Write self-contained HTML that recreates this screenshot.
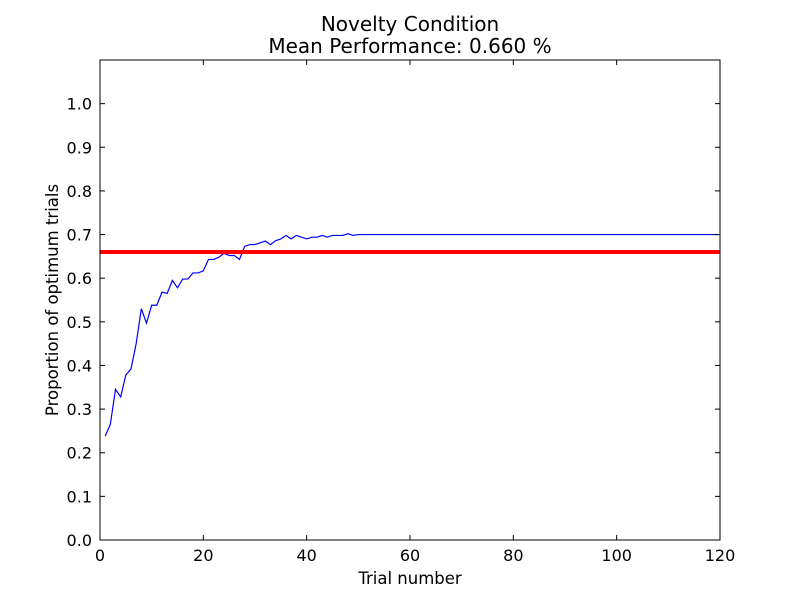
<!DOCTYPE html>
<html><head><meta charset="utf-8"><style>
body{margin:0;background:#fff;}
svg{display:block;font-family:"DejaVu Sans",sans-serif;}
</style></head><body>
<svg width="800" height="600">
<g id="g"></g>
</svg>
<script>
const trials = Array.from({length:120},(_,i)=>i+1);
const perfHead = [.238,.265,.345,.328,.378,.392,.45,.53,.497,.538,.538,.568,.565,.595,.578,.598,.598,.612,.612,.617,.643,.643,.648,.657,.652,.652,.643,.673,.677,.677,.681,.685,.677,.686,.69,.698,.69,.698,.694,.69,.694,.694,.698,.694,.698,.698,.698,.702,.698];
const perf = trials.map((t,i)=> i<perfHead.length ? perfHead[i] : 0.70);
const meanPerf = 0.66;
const xTicks = [0,20,40,60,80,100,120];
const yTicks = [0,0.1,0.2,0.3,0.4,0.5,0.6,0.7,0.8,0.9,1.0];
const L=100,R=720,T=60,B=540,XMAX=120,YMAX=1.1;
const X=v=>L+(v/XMAX)*(R-L), Y=v=>B-(v/YMAX)*(B-T);
const NS="http://www.w3.org/2000/svg", g=document.getElementById('g');
function mk(tag,attrs,txt){const e=document.createElementNS(NS,tag);for(const k in attrs)e.setAttribute(k,attrs[k]);if(txt!==undefined)e.textContent=txt;g.appendChild(e);return e;}
const line=mk('polyline',{points:trials.map((t,i)=>X(t)+','+Y(perf[i])).join(' '),fill:'none',stroke:'#0000ff','stroke-width':1.2});


const mean=mk('line',{x1:L,x2:R,y1:Y(meanPerf),y2:Y(meanPerf),stroke:'#ff0000','stroke-width':4});


const frame=mk('rect',{x:L,y:T,width:R-L,height:B-T,fill:'none',stroke:'#000','stroke-width':1});


xTicks.forEach(v=>{const x=X(v);
 mk('line',{x1:x,x2:x,y1:B,y2:B-5,stroke:'#000'});mk('line',{x1:x,x2:x,y1:T,y2:T+5,stroke:'#000'});
 const t=mk('text',{x:x,y:B+21,'text-anchor':'middle','font-size':16},String(v));
 
 });
yTicks.forEach(v=>{const y=Y(v);
 mk('line',{x1:L,x2:L+5,y1:y,y2:y,stroke:'#000'});mk('line',{x1:R,x2:R-5,y1:y,y2:y,stroke:'#000'});
 const t=mk('text',{x:L-8,y:y+6,'text-anchor':'end','font-size':16},v.toFixed(1));
 
 });
const t1=mk('text',{x:410,y:31,'text-anchor':'middle','font-size':20},'Novelty Condition');


const t2=mk('text',{x:410,y:53,'text-anchor':'middle','font-size':20},'Mean Performance: 0.660 %');


const xl=mk('text',{x:410,y:584,'text-anchor':'middle','font-size':16.5},'Trial number');


const yl=mk('text',{x:0,y:0,'text-anchor':'middle','font-size':16.5,transform:'translate(58,300) rotate(-90)'},'Proportion of optimum trials');


</script>
</body></html>
